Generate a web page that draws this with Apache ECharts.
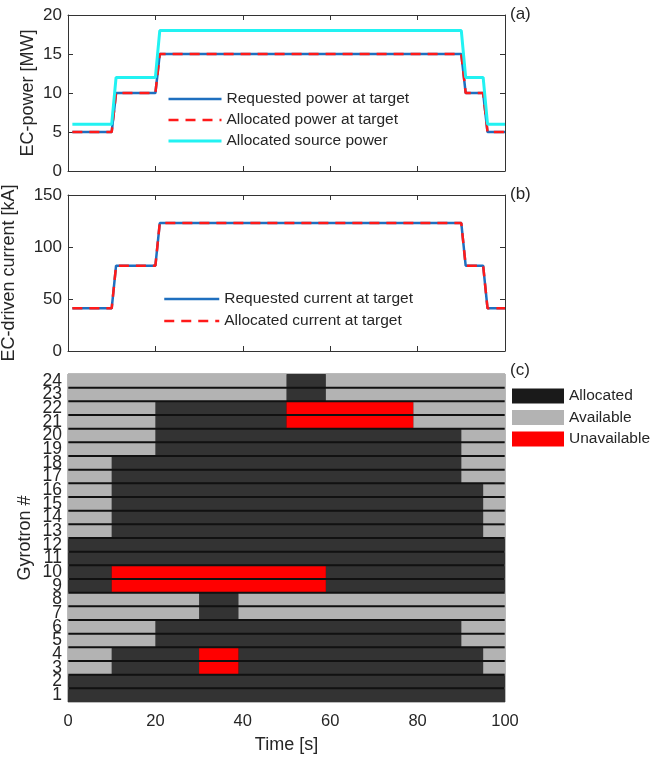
<!DOCTYPE html>
<html>
<head>
<meta charset="utf-8">
<script src="https://cdn.jsdelivr.net/npm/echarts@6/dist/echarts.min.js"></script>
<style>
  html, body { margin: 0; padding: 0; background: #fff; }
  #chart { width: 653px; height: 759px; }
</style>
</head>
<body>
<div id="chart"></div>
<script>
// time points of the step profiles [s]
const timePts = [1, 10, 11, 20, 21, 90, 91, 95, 96, 100];
// (a) EC power [MW]
const reqPower = [5, 5, 10, 10, 15, 15, 10, 10, 5, 5];
const allocPower = [5, 5, 10, 10, 15, 15, 10, 10, 5, 5];
const srcPower = [6, 6, 12, 12, 18, 18, 12, 12, 6, 6];
// (b) EC-driven current [kA]
const reqCurrent = [41, 41, 82, 82, 123, 123, 82, 82, 41, 41];
const allocCurrent = [41, 41, 82, 82, 123, 123, 82, 82, 41, 41];

// (c) gyrotron states
const gyrotrons = ['1','2','3','4','5','6','7','8','9','10','11','12',
  '13','14','15','16','17','18','19','20','21','22','23','24'];
const states = ['Allocated', 'Available', 'Unavailable'];
// per gyrotron (#1 first): [from, to, state]   A = allocated, V = available, U = unavailable
const schedule = [
  [[0, 100, 'A']],
  [[0, 100, 'A']],
  [[0, 10, 'V'], [10, 30, 'A'], [30, 39, 'U'], [39, 95, 'A'], [95, 100, 'V']],
  [[0, 10, 'V'], [10, 30, 'A'], [30, 39, 'U'], [39, 95, 'A'], [95, 100, 'V']],
  [[0, 20, 'V'], [20, 90, 'A'], [90, 100, 'V']],
  [[0, 20, 'V'], [20, 90, 'A'], [90, 100, 'V']],
  [[0, 30, 'V'], [30, 39, 'A'], [39, 100, 'V']],
  [[0, 30, 'V'], [30, 39, 'A'], [39, 100, 'V']],
  [[0, 10, 'A'], [10, 59, 'U'], [59, 100, 'A']],
  [[0, 10, 'A'], [10, 59, 'U'], [59, 100, 'A']],
  [[0, 100, 'A']],
  [[0, 100, 'A']],
  [[0, 10, 'V'], [10, 95, 'A'], [95, 100, 'V']],
  [[0, 10, 'V'], [10, 95, 'A'], [95, 100, 'V']],
  [[0, 10, 'V'], [10, 95, 'A'], [95, 100, 'V']],
  [[0, 10, 'V'], [10, 95, 'A'], [95, 100, 'V']],
  [[0, 10, 'V'], [10, 90, 'A'], [90, 100, 'V']],
  [[0, 10, 'V'], [10, 90, 'A'], [90, 100, 'V']],
  [[0, 20, 'V'], [20, 90, 'A'], [90, 100, 'V']],
  [[0, 20, 'V'], [20, 90, 'A'], [90, 100, 'V']],
  [[0, 20, 'V'], [20, 50, 'A'], [50, 79, 'U'], [79, 100, 'V']],
  [[0, 20, 'V'], [20, 50, 'A'], [50, 79, 'U'], [79, 100, 'V']],
  [[0, 50, 'V'], [50, 59, 'A'], [59, 100, 'V']],
  [[0, 50, 'V'], [50, 59, 'A'], [59, 100, 'V']]
];

const stateColor = { A: '#333333', V: '#b3b3b3', U: '#ff0000' };
const txt = '#262626';
const FONT = 'Liberation Sans';

function pts(vals) {
  return timePts.map((t, i) => [t, vals[i]]);
}

function segData(code) {
  const out = [];
  schedule.forEach((segs, row) => {
    segs.forEach(s => { if (s[2] === code) out.push([row, s[0], s[1]]) })
  });
  return out;
}

function renderSeg(params, api) {
  const row = api.value(0);
  const p0 = api.coord([api.value(1), row]);
  const p1 = api.coord([api.value(2), row]);
  const h = api.size([0, 1])[1];
  const top = p0[1] - h / 2 + (row < 23 ? 1 : 0);
  const bot = p0[1] + h / 2 - (row > 0 ? 1 : 0);
  return {
    type: 'rect',
    shape: { x: p0[0], y: top, width: p1[0] - p0[0], height: bot - top },
    style: { fill: api.visual('color') }
  };
}

const tickStyle = { show: true, inside: true, length: 5, lineStyle: { color: '#333', width: 1 } };

const lineAxisX = (gi, pos) => ({
  type: 'value', gridIndex: gi, min: 0, max: 100, interval: 20, position: pos,
  axisLine: { show: true, onZero: false, lineStyle: { color: '#333', width: 1 } },
  axisTick: tickStyle,
  axisLabel: { show: false },
  splitLine: { show: false }
});

const lineAxisY = (gi, max, step, pos, extra) => Object.assign({
  type: 'value', gridIndex: gi, min: 0, max: max, interval: step, position: pos,
  axisLine: { show: true, onZero: false, lineStyle: { color: '#333', width: 1 } },
  axisTick: tickStyle,
  axisLabel: { show: pos === 'left', color: txt, fontSize: 17, fontFamily: FONT, margin: 6 },
  splitLine: { show: false }
}, extra || {});

const lineLegendItem = (name, w, dashed) => ({
  name: name,
  itemStyle: { opacity: 0 },
  lineStyle: { width: w, type: dashed ? [10, 7] : 'solid' }
});

const chart = echarts.init(document.getElementById('chart'));

chart.setOption({
  animation: false,
  backgroundColor: '#fff',
  grid: [
    { left: 68, top: 15, width: 437, height: 156, show: false, outerBoundsMode: 'none' },
    { left: 68, top: 195, width: 437, height: 156, show: false, outerBoundsMode: 'none' },
    { left: 68, top: 374, width: 437, height: 328, show: true, outerBoundsMode: 'none',
      borderColor: '#777', borderWidth: 1, backgroundColor: '#111' }
  ],
  xAxis: [
    lineAxisX(0, 'bottom'),
    lineAxisX(1, 'bottom'),
    {
      type: 'value', gridIndex: 2, min: 0, max: 100, interval: 20,
      name: 'Time [s]', nameLocation: 'middle', nameGap: 34,
      nameTextStyle: { color: txt, fontSize: 18, fontFamily: FONT },
      axisLine: { show: false }, axisTick: { show: false }, splitLine: { show: false },
      axisLabel: { color: txt, fontSize: 16.5, fontFamily: FONT, margin: 11 }
    },
    lineAxisX(0, 'top'),
    lineAxisX(1, 'top')
  ],
  yAxis: [
    lineAxisY(0, 20, 5, 'left', {
      name: 'EC-power [MW]', nameLocation: 'middle', nameGap: 31, nameMoveOverlap: false,
      nameTextStyle: { color: txt, fontSize: 18, fontFamily: FONT }
    }),
    lineAxisY(1, 150, 50, 'left', {
      name: 'EC-driven current [kA]', nameLocation: 'middle', nameGap: 50, nameMoveOverlap: false,
      nameTextStyle: { color: txt, fontSize: 18, fontFamily: FONT }
    }),
    {
      type: 'category', gridIndex: 2, data: gyrotrons, position: 'left',
      name: 'Gyrotron #', nameLocation: 'middle', nameGap: 34, nameMoveOverlap: false,
      nameTextStyle: { color: txt, fontSize: 18, fontFamily: FONT },
      axisLine: { show: false }, axisTick: { show: false }, splitLine: { show: false },
      axisLabel: { interval: 0, color: txt, fontSize: 17.5, lineHeight: 13, fontFamily: FONT, margin: 6 }
    },
    lineAxisY(0, 20, 5, 'right'),
    lineAxisY(1, 150, 50, 'right')
  ],
  legend: [
    {
      left: 167, top: 91, padding: 0, orient: 'vertical', itemWidth: 53, itemHeight: 14, itemGap: 5,
      textStyle: { color: txt, fontSize: 15.5, fontFamily: FONT, lineHeight: 14 },
      data: [
        lineLegendItem('Requested power at target', 2.5),
        lineLegendItem('Allocated power at target', 2.5, true),
        lineLegendItem('Allocated source power', 3)
      ]
    },
    {
      left: 163, top: 291, padding: 0, orient: 'vertical', itemWidth: 55, itemHeight: 14, itemGap: 6,
      textStyle: { color: txt, fontSize: 15.5, fontFamily: FONT, lineHeight: 14 },
      data: [
        lineLegendItem('Requested current at target', 2.5),
        lineLegendItem('Allocated current at target', 2.5, true)
      ]
    },
    {
      left: 512, top: 388, padding: 0, orient: 'vertical', itemWidth: 52, itemHeight: 15, itemGap: 5.5,
      textStyle: { color: txt, fontSize: 15.5, fontFamily: FONT, lineHeight: 15 },
      data: [
        { name: 'Allocated', icon: 'rect', itemStyle: { color: '#1a1a1a' } },
        { name: 'Available', icon: 'rect', itemStyle: { color: '#b3b3b3' } },
        { name: 'Unavailable', icon: 'rect', itemStyle: { color: '#ff0000' } }
      ]
    }
  ],
  graphic: [
    { type: 'text', left: 510, top: 6, style: { text: '(a)', fontSize: 17, fontFamily: FONT, fill: txt } },
    { type: 'text', left: 510, top: 186, style: { text: '(b)', fontSize: 17, fontFamily: FONT, fill: txt } },
    { type: 'text', left: 510, top: 362, style: { text: '(c)', fontSize: 17, fontFamily: FONT, fill: txt } }
  ],
  series: [
    {
      name: 'Requested power at target', type: 'line', xAxisIndex: 0, yAxisIndex: 0,
      data: pts(reqPower), symbol: 'none', color: '#1f6fbf', lineStyle: { width: 2.5 }, z: 2
    },
    {
      name: 'Allocated power at target', type: 'line', xAxisIndex: 0, yAxisIndex: 0,
      data: pts(allocPower), symbol: 'none', color: '#ff1a1a', lineStyle: { width: 2.5, type: [10, 7] }, z: 3
    },
    {
      name: 'Allocated source power', type: 'line', xAxisIndex: 0, yAxisIndex: 0,
      data: pts(srcPower), symbol: 'none', color: '#22f2f2', lineStyle: { width: 3 }, z: 4
    },
    {
      name: 'Requested current at target', type: 'line', xAxisIndex: 1, yAxisIndex: 1,
      data: pts(reqCurrent), symbol: 'none', color: '#1f6fbf', lineStyle: { width: 2.5 }, z: 2
    },
    {
      name: 'Allocated current at target', type: 'line', xAxisIndex: 1, yAxisIndex: 1,
      data: pts(allocCurrent), symbol: 'none', color: '#ff1a1a', lineStyle: { width: 2.5, type: [10, 7] }, z: 3
    },
    {
      name: 'Allocated', type: 'custom', xAxisIndex: 2, yAxisIndex: 2, color: stateColor.A,
      renderItem: renderSeg, encode: { x: [1, 2], y: 0 }, data: segData('A'), clip: true
    },
    {
      name: 'Available', type: 'custom', xAxisIndex: 2, yAxisIndex: 2, color: stateColor.V,
      renderItem: renderSeg, encode: { x: [1, 2], y: 0 }, data: segData('V'), clip: true
    },
    {
      name: 'Unavailable', type: 'custom', xAxisIndex: 2, yAxisIndex: 2, color: stateColor.U,
      renderItem: renderSeg, encode: { x: [1, 2], y: 0 }, data: segData('U'), clip: true
    }
  ]
});
</script>
</body>
</html>
